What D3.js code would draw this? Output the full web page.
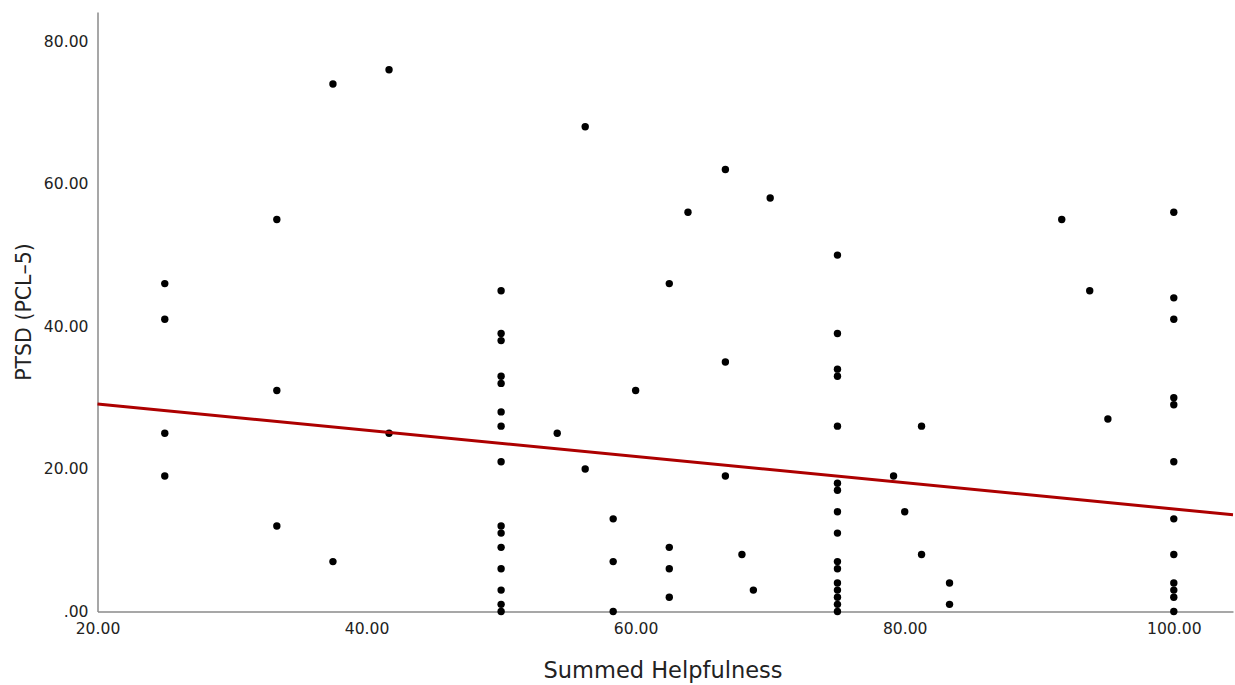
<!DOCTYPE html>
<html>
<head>
<meta charset="utf-8">
<script src="https://cdn.jsdelivr.net/npm/d3@7"></script>
<style>
  html, body { margin: 0; padding: 0; background: #fff; }
  svg { display: block; }
  .tick text { font-family: "DejaVu Sans", sans-serif; font-size: 15.6px; fill: #222; }
  .title { font-family: "DejaVu Sans", sans-serif; fill: #222; }
</style>
</head>
<body>
<svg id="chart" width="1235" height="685"></svg>
<script>
// summed helpfulness (x) and PTSD PCL-5 score (y), one entry per respondent
const helpfulness = [
  25, 25, 25, 25,
  33.33, 33.33, 33.33,
  37.5, 37.5,
  41.67, 41.67,
  50, 50, 50, 50, 50, 50, 50, 50, 50, 50, 50, 50, 50, 50, 50,
  54.17,
  56.25, 56.25,
  58.33, 58.33, 58.33,
  60,
  62.5, 62.5, 62.5, 62.5,
  63.89,
  66.67, 66.67, 66.67,
  67.9, 68.75, 70,
  75, 75, 75, 75, 75, 75, 75, 75, 75, 75, 75, 75, 75, 75, 75, 75,
  79.17, 80, 81.25, 81.25, 83.33, 83.33,
  91.67, 93.75, 95.1,
  100, 100, 100, 100, 100, 100, 100, 100, 100, 100, 100, 100
];
const ptsd = [
  46, 41, 25, 19,
  55, 31, 12,
  74, 7,
  76, 25,
  45, 39, 38, 33, 32, 28, 26, 21, 12, 11, 9, 6, 3, 1, 0,
  25,
  68, 20,
  13, 7, 0,
  31,
  46, 9, 6, 2,
  56,
  62, 35, 19,
  8, 3, 58,
  50, 39, 34, 33, 26, 18, 17, 14, 11, 7, 6, 4, 3, 2, 1, 0,
  19, 14, 26, 8, 4, 1,
  55, 45, 27,
  56, 44, 41, 30, 29, 21, 13, 8, 4, 3, 2, 0
];
const xTicks = [20, 40, 60, 80, 100];
const yTicks = [0, 20, 40, 60, 80];
// linear fit line
const fitIntercept = 32.78;
const fitSlope = -0.184;

const svg = d3.select('#chart');
const mLeft = 97.5, mRight = 1233, mTop = 12, mBottom = 611.5;

const x = d3.scaleLinear().domain([20, 104.4]).range([mLeft, mRight]);
const y = d3.scaleLinear().domain([0, 84.1]).range([mBottom, mTop]);

const fmt = v => v === 0 ? '.00' : d3.format('.2f')(v);

const xAxis = svg.append('g')
  .attr('transform', `translate(0,${mBottom})`)
  .call(d3.axisBottom(x).tickValues(xTicks).tickFormat(fmt).tickSize(0).tickPadding(11));
const yAxis = svg.append('g')
  .attr('transform', `translate(${mLeft},0)`)
  .call(d3.axisLeft(y).tickValues(yTicks).tickFormat(fmt).tickSize(0).tickPadding(9));
[xAxis, yAxis].forEach(a => a.select('.domain').attr('stroke', '#8a8a8a').attr('stroke-width', 1.5));

const pts = helpfulness.map((h, i) => ({ h, p: ptsd[i] }));
svg.append('g').selectAll('circle').data(pts).join('circle')
  .attr('cx', d => x(d.h))
  .attr('cy', d => y(d.p))
  .attr('r', 3.7)
  .attr('fill', '#000');

const fitDomain = x.domain();
svg.append('line')
  .attr('x1', x(fitDomain[0])).attr('y1', y(fitIntercept + fitSlope * fitDomain[0]))
  .attr('x2', x(fitDomain[1])).attr('y2', y(fitIntercept + fitSlope * fitDomain[1]))
  .attr('stroke', '#ad0000').attr('stroke-width', 3);

svg.append('text').attr('class', 'title')
  .attr('x', 663).attr('y', 678)
  .attr('text-anchor', 'middle').attr('font-size', 22.5)
  .text('Summed Helpfulness');
svg.append('text').attr('class', 'title')
  .attr('transform', 'translate(31,312) rotate(-90)')
  .attr('text-anchor', 'middle').attr('font-size', 20.5)
  .text('PTSD (PCL–5)');
</script>
</body>
</html>
